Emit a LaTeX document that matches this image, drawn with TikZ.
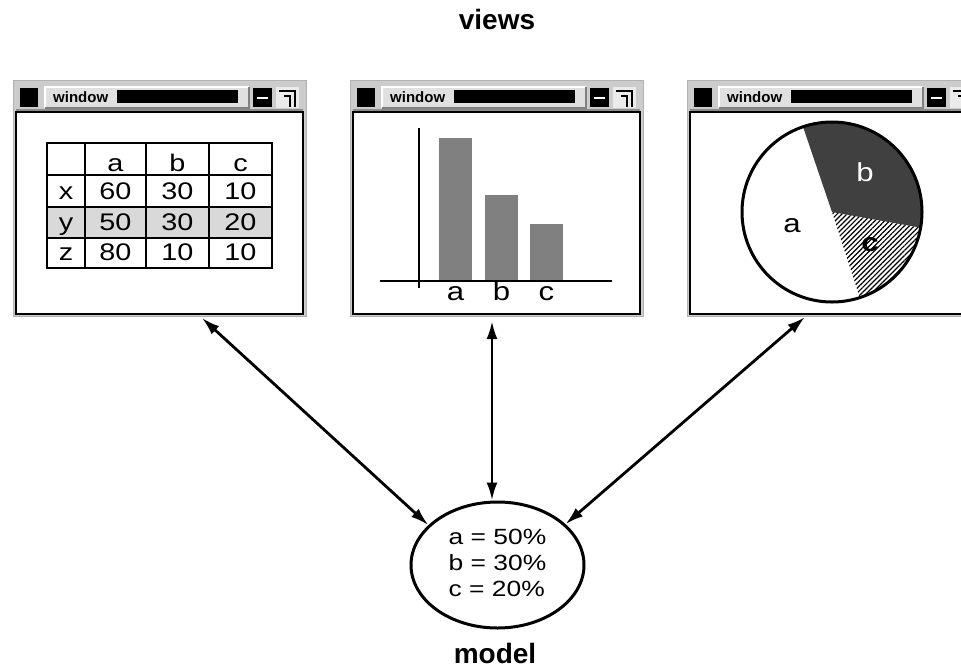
\documentclass[tikz,border=0pt]{standalone}
\usepackage{graphicx}
\usepackage{fontspec}
\setmainfont{Liberation Sans}
\usetikzlibrary{shapes.geometric,arrows.meta,patterns.meta}

% texto algo ensanchado, como en la figura original
\newcommand{\ancho}[1]{\scalebox{1.2}[1]{#1}}

\begin{document}
\begin{tikzpicture}[
        x=1pt, y=-1pt,
        marco/.style={fill=black!20, draw=black!30, line width=1pt},
        contenido/.style={rectangle, draw=black, fill=white, line width=1.5pt, inner sep=0pt, minimum width=287pt, minimum height=202pt},
        titulo/.style={font=\fontsize{15}{15}\selectfont\bfseries, anchor=west, inner sep=0pt},
        celda/.style={font=\fontsize{24}{24}\selectfont, anchor=base, inner sep=0pt},
        rotulo/.style={font=\fontsize{26}{26}\selectfont, inner sep=0pt},
        barra/.style={fill=black!50},
        modelo/.style={ellipse, draw=black, line width=3pt, minimum width=173pt, minimum height=126pt, inner sep=0pt, font=\fontsize{22}{26}\selectfont},
        cabecera/.style={font=\fontsize{28}{28}\selectfont\bfseries, anchor=base, inner sep=0pt},
        flecha/.style={<->, >={Latex[length=18pt,width=11pt]}, line width=2.8pt}
    ]
        \useasboundingbox (0,0) rectangle (961,670);
        \clip (0,0) rectangle (961,670);

        % las tres ventanas
        \foreach \ox/\nm in {13/vtabla, 350/vbarras, 687/vtarta}{
            \fill[marco] (\ox,80) rectangle ++(293,236);
            \fill[black!45] (\ox+3,109) rectangle ++(287,3);
            \node[contenido] (\nm) at (\ox+146.5,213) {};
            \fill[black] (\ox+7,88) rectangle (\ox+25,107);
            \fill[black!12] (\ox+32,87) rectangle (\ox+236,108);
            \draw[white, line width=1.5pt] (\ox+32,108) -- (\ox+32,87) -- (\ox+236,87);
            \draw[black!50, line width=1.5pt] (\ox+236,87) -- (\ox+236,108) -- (\ox+32,108);
            \node[titulo] (\nm-tit) at (\ox+40,97) {window};
            \fill[black] (\ox+104,90) rectangle (\ox+225,103);
            \fill[black] (\ox+240,88) rectangle (\ox+259,107);
            \draw[white, line width=2pt] (\ox+244,98) -- (\ox+255,98);
            \fill[black!8] (\ox+263,87) rectangle (\ox+286,108);
            \draw[line width=2.5pt] (\ox+266,91) -- (\ox+282,91) -- (\ox+282,107);
            \draw[line width=2.5pt] (\ox+271,96) -- (\ox+277,96) -- (\ox+277,107);
        }

        % tabla
        \fill[black!15] (47,207) rectangle (272,238);
        \draw[line width=2pt] (47,143) rectangle (272,268);
        \foreach \x in {85,146,209} \draw[line width=2pt] (\x,143) -- (\x,268);
        \foreach \y in {175,207,238} \draw[line width=2pt] (47,\y) -- (272,\y);
        \foreach \t/\cx in {a/115.5, b/177.5, c/240.5}
            \node[celda] (h\t) at (\cx,171) {\ancho{\t}};
        \foreach \r/\yb/\p/\q/\s in {x/199/60/30/10, y/230/50/30/20, z/260/80/10/10}{
            \node[celda] (\r0) at (66,\yb) {\ancho{\r}};
            \node[celda] (\r1) at (115.5,\yb) {\ancho{\p}};
            \node[celda] (\r2) at (177.5,\yb) {\ancho{\q}};
            \node[celda] (\r3) at (240.5,\yb) {\ancho{\s}};
        }

        % barras
        \fill[barra] (439,138) rectangle (472,281);
        \fill[barra] (485,195) rectangle (518,281);
        \fill[barra] (530,224) rectangle (563,281);
        \draw[line width=2pt] (419,128) -- (419,288);
        \draw[line width=2pt] (380,281) -- (612,281);
        \node[celda, font=\fontsize{26}{26}\selectfont] (ba) at (455.5,300) {\ancho{a}};
        \node[celda, font=\fontsize{26}{26}\selectfont] (bb) at (501.5,300) {\ancho{b}};
        \node[celda, font=\fontsize{26}{26}\selectfont] (bc) at (546.5,300) {\ancho{c}};

        % tarta
        \coordinate (centro) at (832,212);
        \fill[black!75] (centro) -- +(-108.8:90) arc[start angle=-108.8, end angle=10, radius=90] -- cycle;
        \fill[pattern={Lines[angle=45, distance=3.5pt, line width=1.2pt]}] (centro) -- +(10:90) arc[start angle=10, end angle=72, radius=90] -- cycle;
        \draw[line width=3pt] (centro) circle[radius=90];
        \node[rotulo, text=white] (ta) at (865,172) {\ancho{b}};
        \node[rotulo] (tb) at (792,226) {\ancho{a}};
        \node[rotulo, font=\fontsize{26}{26}\selectfont\bfseries] (tc) at (870,245) {\ancho{c}};

        % modelo
        \node[modelo] (modelo) at (497.5,565) {\ancho{\begin{tabular}{@{}l@{}}a = 50\%\\b = 30\%\\c = 20\%\end{tabular}}};

        \node[cabecera] (vistas) at (497,29) {views};
        \node[cabecera] (nmodelo) at (495,663) {model};

        \coordinate (p1) at (202,318);
        \coordinate (p2) at (492,321);
        \coordinate (p3) at (805,317);
        \draw[flecha] (p1) -- (modelo.150.5);
        \draw[flecha] (p2) -- (p2 |- modelo.north);
        \draw[flecha] (p3) -- (modelo.31);
    \end{tikzpicture}
\end{document}
